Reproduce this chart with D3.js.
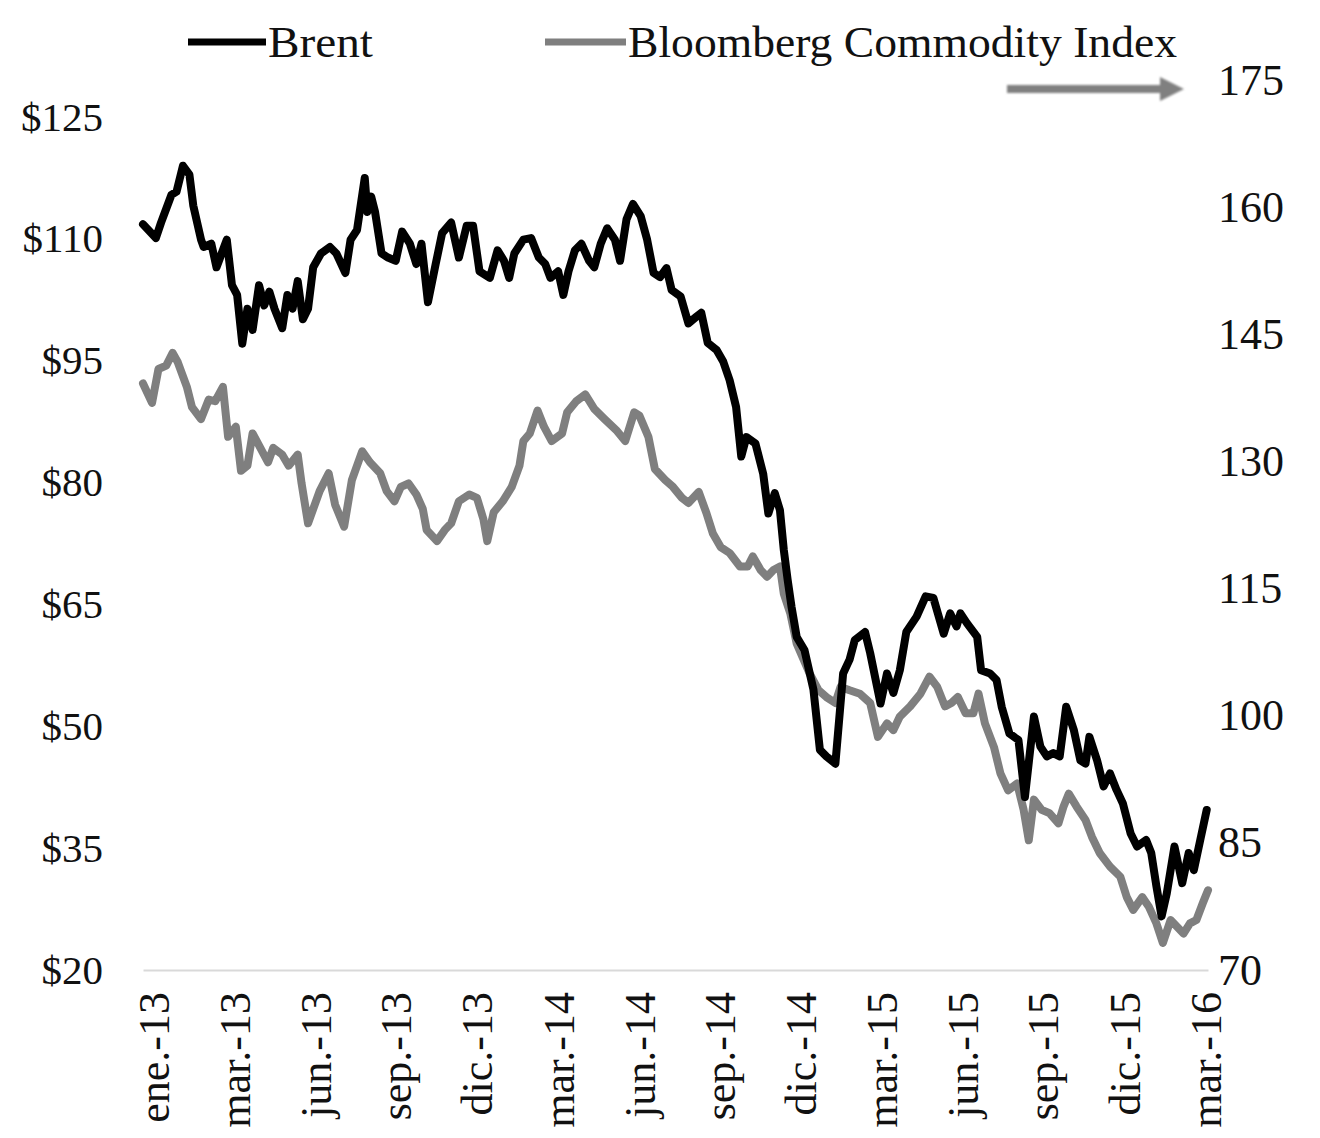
<!DOCTYPE html>
<html><head><meta charset="utf-8">
<script src="https://cdn.jsdelivr.net/npm/d3@7"></script>
<style>body{margin:0;background:#fff}</style>
</head><body><svg id="c" width="1320" height="1138"></svg>
<script>
// Brent crude ($/bbl), x = trading-day index from early Jan 2013
const brentDay = [0,10,14,22,26,31,36,39,45,47,53,57,61,65,69,73,77,81,85,90,94,98,102,108,112,116,120,124,128,132,138,145,150,157,161,166,172,174,177,180,185,190,196,201,207,212,216,221,227,232,239,245,251,256,261,269,275,280,284,288,295,301,307,312,316,322,326,330,335,340,346,350,355,360,366,370,375,380,386,391,396,401,406,410,417,423,429,433,438,445,450,455,460,464,468,475,481,485,490,494,497,500,503,507,513,520,525,530,537,539,543,548,552,560,564,572,577,582,587,592,600,607,613,621,626,631,634,639,647,650,657,662,666,672,679,684,691,696,701,706,711,716,722,727,731,734,740,745,750,755,760,766,771,778,782,786,790,794,800,806,811,815,820,825];
const brentPrice = [111.8,110.1,112.0,115.4,115.8,119.0,117.9,114.1,109.9,109.0,109.4,106.5,108.2,109.9,104.3,103.1,97.1,101.4,98.8,104.3,101.8,103.5,101.4,99.0,103.1,101.4,104.8,100.1,101.4,106.5,108.2,109.0,108.2,105.8,109.9,111.1,117.5,113.3,115.2,113.3,108.2,107.7,107.3,110.9,109.4,106.9,109.4,102.2,106.9,110.7,112.0,107.7,111.6,111.6,106.0,105.2,108.6,107.3,105.2,108.2,109.9,110.1,107.7,106.9,105.2,106.0,103.1,106.0,108.6,109.4,107.3,106.5,109.4,111.3,109.9,107.3,112.4,114.3,112.8,109.9,105.8,105.3,106.4,103.7,102.9,99.6,100.4,100.9,97.2,96.3,94.9,92.6,89.3,83.2,85.6,84.8,81.1,76.2,78.7,76.6,71.7,68.0,64.7,61.0,59.4,54.5,47.1,46.3,45.4,49.1,56.5,58.2,60.6,61.6,59.0,52.8,56.5,54.1,56.9,61.6,63.5,66.0,65.8,61.4,63.9,62.3,63.9,62.7,61.0,56.9,56.5,55.7,52.4,49.1,48.3,41.3,51.2,47.5,46.3,46.7,46.3,52.4,49.5,45.8,45.4,48.7,45.8,42.6,44.2,42.2,40.5,36.8,35.2,36.0,34.4,30.3,26.6,29.4,35.2,30.7,34.4,32.3,36.0,39.7];
// Bloomberg Commodity Index (right axis)
const bcomDay = [0,7,12,18,23,27,34,38,45,51,56,62,66,72,76,81,85,91,97,101,108,113,120,123,128,137,144,149,156,162,170,176,184,189,195,200,206,212,217,220,228,234,239,245,253,259,264,267,272,279,286,292,295,300,306,311,317,325,329,336,343,350,358,367,374,381,385,392,397,405,411,418,423,431,437,442,448,455,463,469,473,479,484,489,494,497,502,507,517,524,530,537,541,548,556,564,570,577,582,587,595,603,610,616,622,627,632,638,644,648,653,660,665,671,678,683,687,691,697,703,710,714,718,724,731,736,742,750,758,763,768,775,780,786,791,797,802,807,812,817,822,826];
const bcomValue = [139.2,136.9,140.9,141.3,142.8,141.7,138.8,136.4,135.0,137.3,137.1,138.8,132.9,134.1,128.9,129.5,133.3,131.6,129.9,131.6,130.8,129.5,130.8,127.4,122.7,126.5,128.6,124.9,122.3,127.8,131.2,129.9,128.6,126.5,125.3,127.0,127.4,126.1,124.4,121.9,120.6,121.9,122.7,125.3,126.1,125.7,123.2,120.6,124.0,125.3,127.0,129.5,132.4,133.3,136.0,134.1,132.4,133.3,135.8,137.1,137.9,136.2,135.0,133.7,132.4,135.8,135.4,132.9,129.1,127.8,127.0,125.7,125.1,126.4,123.9,121.5,119.9,119.2,117.6,117.6,118.8,117.2,116.4,117.2,117.6,114.4,112.1,108.5,105.0,103.0,102.2,101.5,103.4,103.0,102.6,101.5,97.5,99.1,98.3,99.9,101.1,102.6,104.6,103.4,101.1,101.5,102.2,100.3,100.3,102.6,99.1,96.3,93.2,91.2,92.0,88.9,85.3,90.1,88.9,88.5,87.3,89.3,90.8,89.3,87.7,85.7,83.8,82.2,81.0,78.6,77.1,78.6,77.5,75.5,73.2,75.9,75.1,74.3,75.5,75.9,77.9,79.4];
const tickDays = [8,71,134,196,259,322,385,447,510,573,636,698,761,824];
const tickLabels = ["ene.-13","mar.-13","jun.-13","sep.-13","dic.-13","mar.-14","jun.-14","sep.-14","dic.-14","mar.-15","jun.-15","sep.-15","dic.-15","mar.-16"];
const leftTicks = [20,35,50,65,80,95,110,125];
const rightTicks = [70,85,100,115,130,145,160,175];
const seriesNames = ["Brent","Bloomberg Commodity Index"];

const FONT = "'Liberation Serif','Times New Roman',serif";
const svg = d3.select("#c");
const x = d3.scaleLinear().domain([0, 826]).range([143, 1208]);
const yL = d3.scaleLinear().domain([20, 125]).range([970, 117]);
const yR = d3.scaleLinear().domain([70, 175]).range([970, 80]);

// bottom axis
const gx = svg.append("g").attr("transform", "translate(0,970)")
  .call(d3.axisBottom(x).tickValues(tickDays).tickFormat((d,i)=>tickLabels[i]).tickSize(0).tickSizeOuter(0));
gx.select(".domain").attr("stroke", "#d9d9d9").attr("stroke-width", 2);
gx.selectAll("text")
  .attr("font-family", FONT).attr("font-size", 44).attr("fill", "#111")
  .attr("transform", "rotate(-90)").attr("text-anchor", "end")
  .attr("x", -22).attr("y", 0).attr("dy", "0.34em");

// left axis
const gl = svg.append("g").attr("transform", "translate(103,0)")
  .call(d3.axisLeft(yL).tickValues(leftTicks).tickFormat(d=>"$"+d).tickSize(0).tickPadding(0));
gl.select(".domain").remove();
gl.selectAll("text").attr("font-family", FONT).attr("font-size", 41).attr("fill", "#111");

// right axis
const gr = svg.append("g").attr("transform", "translate(1218,0)")
  .call(d3.axisRight(yR).tickValues(rightTicks).tickSize(0).tickPadding(0));
gr.select(".domain").remove();
gr.selectAll("text").attr("font-family", FONT).attr("font-size", 44).attr("fill", "#111");

// lines
const bcomLine = d3.line().x((d,i)=>x(bcomDay[i])).y((d)=>yR(d)).curve(d3.curveLinear);
const brentLine = d3.line().x((d,i)=>x(brentDay[i])).y((d)=>yL(d)).curve(d3.curveLinear);
svg.append("path").attr("d", bcomLine(bcomValue)).attr("fill","none")
  .attr("stroke","#7f7f7f").attr("stroke-width",8).attr("stroke-linejoin","round").attr("stroke-linecap","round");
svg.append("path").attr("d", brentLine(brentPrice)).attr("fill","none")
  .attr("stroke","#000").attr("stroke-width",8).attr("stroke-linejoin","round").attr("stroke-linecap","round");

// legend
const leg = [{x1:188,x2:266,tx:268,w:105,color:"#000"},{x1:545,x2:626,tx:628,w:549,color:"#7f7f7f"}];
leg.forEach((l,i)=>{
  svg.append("line").attr("x1",l.x1).attr("x2",l.x2).attr("y1",42).attr("y2",42)
    .attr("stroke",l.color).attr("stroke-width",7);
  svg.append("text").attr("x",l.tx).attr("y",57).text(seriesNames[i])
    .attr("font-family",FONT).attr("font-size",44).attr("fill","#111")
    .attr("textLength",l.w).attr("lengthAdjust","spacingAndGlyphs");
});

// arrow pointing to the right axis
const defs = svg.append("defs");
defs.append("filter").attr("id","sh").attr("filterUnits","userSpaceOnUse")
  .attr("x",990).attr("y",60).attr("width",220).attr("height",60)
  .append("feGaussianBlur").attr("stdDeviation",1);
svg.append("path")
  .attr("d","M1007,85 L1160,85 L1160,77 L1184,89 L1160,101 L1160,93 L1007,93 Z")
  .attr("fill","#808080").attr("filter","url(#sh)");
</script>
</body></html>
